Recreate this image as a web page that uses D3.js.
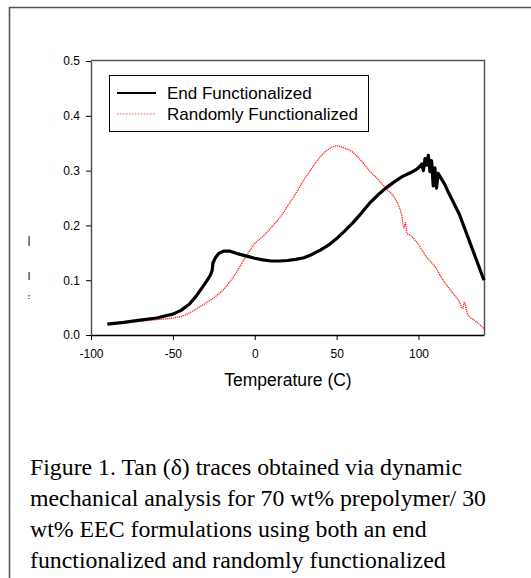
<!doctype html>
<html lang="en">
<head>
    <meta charset="UTF-8">
    <title>Tan delta traces</title>
    <script src="https://d3js.org/d3.v7.min.js"></script>
    <style>
        body { margin: 0; background: #fff; }
        svg { display: block; }
        .tick text { font-family: "Liberation Sans", Arial, sans-serif; font-size: 12px; fill: #000; }
    </style>
</head>
<body>
<script>
    var width = 531;
    var height = 578;

    // data (temperature in C, tan delta)
    var endTemps = [-90, -80, -70, -60, -50, -45, -40, -36, -32, -29, -27, -26, -25.5, -24, -22, -19, -15, -10, -5, 0,
        5, 10, 15, 20, 25, 30, 35, 40, 45, 50, 55, 60, 65, 70, 75, 80, 85, 90, 95, 98, 100, 102, 103, 104, 105, 106,
        107, 108, 109, 110, 111, 112, 114, 116, 118, 120, 125, 130, 135, 140];
    var endValues = [0.020, 0.023, 0.027, 0.031, 0.038, 0.045, 0.056, 0.070, 0.087, 0.100, 0.110, 0.118, 0.132, 0.141, 0.149, 0.153, 0.153, 0.148, 0.144, 0.140,
        0.137, 0.135, 0.135, 0.136, 0.138, 0.141, 0.147, 0.155, 0.164, 0.176, 0.190, 0.205, 0.222, 0.240, 0.255, 0.268, 0.279, 0.289, 0.296, 0.301, 0.305, 0.312, 0.300, 0.322, 0.310, 0.328,
        0.298, 0.318, 0.272, 0.305, 0.268, 0.295, 0.285, 0.275, 0.262, 0.250, 0.220, 0.180, 0.140, 0.100];

    var randTemps = [-90, -80, -70, -60, -50, -45, -40, -35, -30, -25, -20, -15, -10, -5, 0, 5, 10, 15, 20, 25, 30,
        35, 40, 45, 50, 55, 60, 65, 70, 75, 80, 85, 88, 90, 91, 92, 93, 95, 100, 105, 110, 115, 120, 125, 127, 128, 130, 135, 140];
    var randValues = [0.020, 0.022, 0.025, 0.028, 0.031, 0.034, 0.040, 0.049, 0.058, 0.068, 0.080, 0.098, 0.120, 0.145, 0.167, 0.180, 0.196, 0.213, 0.235, 0.258, 0.283,
        0.305, 0.325, 0.339, 0.345, 0.341, 0.333, 0.318, 0.300, 0.285, 0.268, 0.252, 0.235, 0.215, 0.195, 0.205, 0.185, 0.182, 0.165, 0.142, 0.125, 0.100, 0.080, 0.060, 0.048, 0.060, 0.038, 0.025, 0.012];

    var xTicks = [-100, -50, 0, 50, 100];
    var yTicks = [0.0, 0.1, 0.2, 0.3, 0.4, 0.5];
    var seriesNames = ['End Functionalized', 'Randomly Functionalized'];
    var captionLines = [
        'Figure 1. Tan (\u03b4) traces obtained via dynamic',
        'mechanical analysis for 70 wt% prepolymer/ 30',
        'wt% EEC formulations using both an end',
        'functionalized and randomly functionalized'
    ];

    var svg = d3.select('body').append('svg')
        .attr('width', width)
        .attr('height', height);

    // outer page frame
    svg.append('path')
        .attr('d', 'M9.5,' + height + 'V7.5H' + width)
        .attr('fill', 'none')
        .attr('stroke', '#555')
        .attr('stroke-width', 1.6);

    var plot = {left: 91, right: 484, top: 61, bottom: 335};

    var x = d3.scaleLinear().domain([-100, 140]).range([plot.left, plot.right]);
    var y = d3.scaleLinear().domain([0, 0.5]).range([plot.bottom, plot.top]);

    // plot box top / right
    svg.append('path')
        .attr('d', 'M' + plot.left + ',' + (plot.top - 0.5) + 'H' + (plot.right + 0.5) + 'V' + plot.bottom)
        .attr('fill', 'none')
        .attr('stroke', '#555')
        .attr('stroke-width', 1.5);

    var xAxis = svg.append('g')
        .attr('transform', 'translate(0,' + plot.bottom + ')')
        .call(d3.axisBottom(x).tickValues(xTicks).tickSize(5).tickPadding(9).tickSizeOuter(0)
            .tickFormat(function(d) { return String(d); }));
    xAxis.select('.domain').attr('stroke', '#000').attr('stroke-width', 1.5);

    var yAxis = svg.append('g')
        .attr('transform', 'translate(' + plot.left + ',0)')
        .call(d3.axisLeft(y).tickValues(yTicks).tickSize(5).tickPadding(6).tickSizeOuter(0)
            .tickFormat(d3.format('.1f')));
    yAxis.select('.domain').attr('stroke', '#555').attr('stroke-width', 1.5);
    svg.selectAll('.tick line').attr('stroke', '#000');

    var line = d3.line()
        .x(function(d) { return x(d[0]); })
        .y(function(d) { return y(d[1]); })
        .curve(d3.curveMonotoneX);

    var randData = d3.zip(randTemps, randValues);
    var endData = d3.zip(endTemps, endValues);

    svg.append('path')
        .datum(randData)
        .attr('d', line)
        .attr('fill', 'none')
        .attr('stroke', '#ff1a1a')
        .attr('stroke-width', 1.3)
        .attr('stroke-dasharray', '1.2,0.8');

    svg.append('path')
        .datum(endData)
        .attr('d', d3.line().x(function(d) { return x(d[0]); }).y(function(d) { return y(d[1]); }))
        .attr('fill', 'none')
        .attr('stroke', '#000')
        .attr('stroke-width', 3.2)
        .attr('stroke-linejoin', 'round');

    // legend
    var legend = svg.append('g');
    legend.append('rect')
        .attr('x', 109.5).attr('y', 75.5)
        .attr('width', 259).attr('height', 56)
        .attr('fill', '#fff')
        .attr('stroke', '#000')
        .attr('stroke-width', 1);

    var legendItems = legend.selectAll('.item')
        .data(seriesNames)
        .enter().append('g')
        .attr('transform', function(d, i) { return 'translate(0,' + (93 + i * 21) + ')'; });

    legendItems.append('line')
        .attr('x1', 117).attr('x2', 156)
        .attr('stroke', function(d, i) { return i ? '#ff4d4d' : '#000'; })
        .attr('stroke-width', function(d, i) { return i ? 1.2 : 1.8; })
        .attr('stroke-dasharray', function(d, i) { return i ? '1.5,1.5' : null; });

    legendItems.append('text')
        .attr('x', 167)
        .attr('y', 6)
        .attr('font-family', '"Liberation Sans", Arial, sans-serif')
        .attr('font-size', '17px')
        .text(function(d) { return d; });

    // axis title
    svg.append('text')
        .attr('x', (x(-100) + x(140)) / 2 + 0.5)
        .attr('y', 386)
        .attr('text-anchor', 'middle')
        .attr('font-family', '"Liberation Sans", Arial, sans-serif')
        .attr('font-size', '17.5px')
        .text('Temperature (C)');

    // clipped y title remnants
    svg.selectAll('.stub')
        .data([[236, 10], [272, 8], [295, 1.5], [298, 1]])
        .enter().append('rect')
        .attr('x', 28.5).attr('width', 1.2)
        .attr('y', function(d) { return d[0]; })
        .attr('height', function(d) { return d[1]; })
        .attr('fill', '#333');

    // caption
    svg.selectAll('.caption')
        .data(captionLines)
        .enter().append('text')
        .attr('x', 30)
        .attr('y', function(d, i) { return 475 + i * 31; })
        .attr('font-family', '"Liberation Serif", "Times New Roman", serif')
        .attr('font-size', '23.8px')
        .text(function(d) { return d; });
</script>
</body>
</html>
